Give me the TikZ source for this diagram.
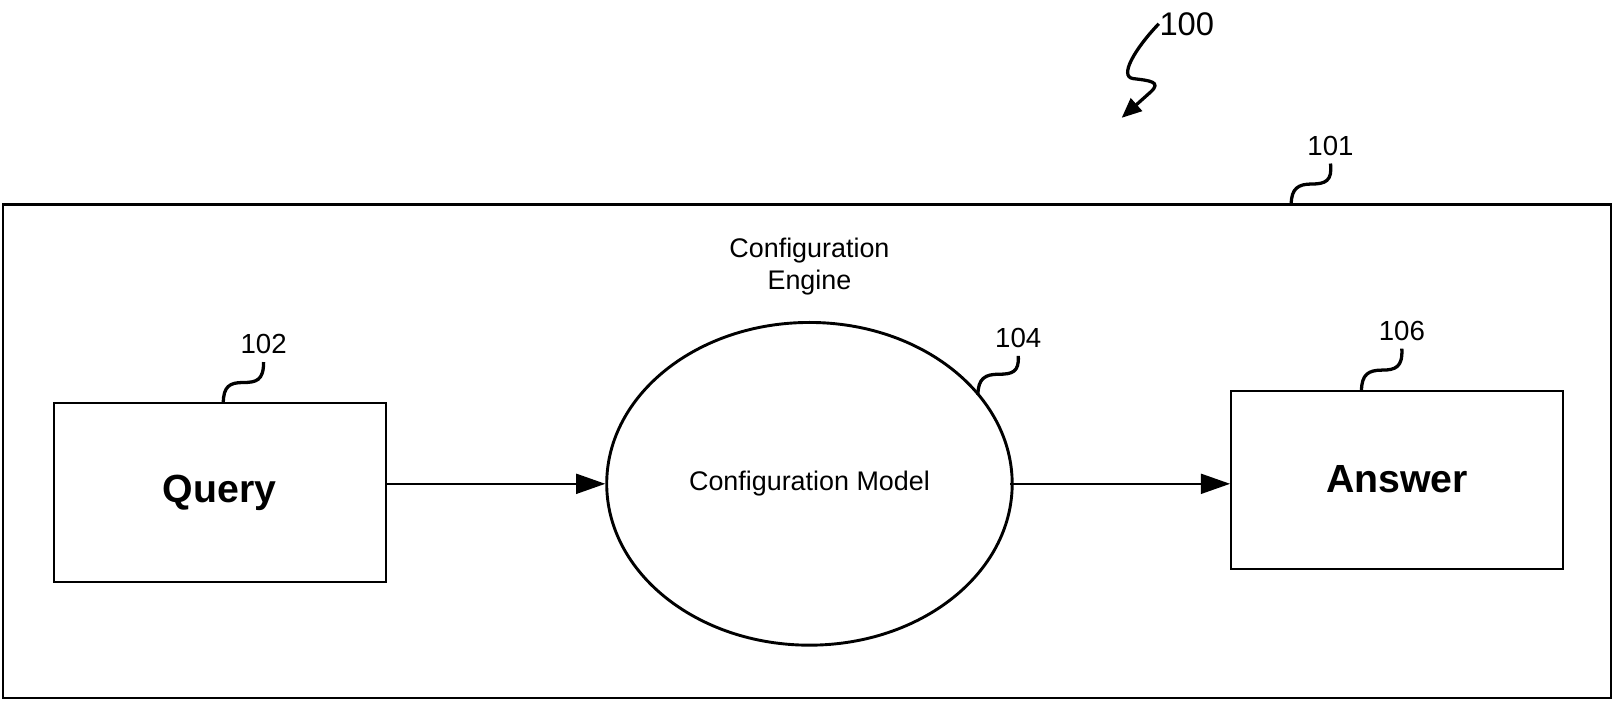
\documentclass[tikz,border=0pt]{standalone}
\usepackage{fontspec}
\setmainfont{Liberation Sans}
\usetikzlibrary{arrows.meta,shapes.geometric}

\tikzset{
	block/.style={draw, line width=0.6pt, minimum width=3.21cm, minimum height=1.73cm,
		font=\fontsize{10.8}{13}\selectfont\bfseries},
	refnum/.style={inner sep=2pt, font=\fontsize{7.6}{9}\selectfont},
	lead/.style={line width=0.9pt},
	flow/.style={line width=0.5pt, arrows={-Triangle[length=8pt,width=5.5pt]}}
}

\begin{document}
\begin{tikzpicture}[x=0.01cm, y=-0.01cm]
	\useasboundingbox (0,0) rectangle (1568,682);

	\node[draw, line width=0.6pt, minimum width=15.55cm, minimum height=4.77cm] (engine) at (780.5,436.5) {};
	\node[align=center, font=\fontsize{7.4}{8.8}\selectfont] (title) at (783,258) {Configuration\\Engine};

	\node[block] (Query) at (212.5,476.5) {Query};
	\node[draw, ellipse, line width=0.8pt, minimum width=3.92cm, minimum height=3.12cm, inner sep=0pt,
		font=\fontsize{7.4}{8.8}\selectfont] (Model) at (783,468) {Configuration Model};
	\node[block, minimum height=1.72cm] (Answer) at (1351.5,464) {Answer};

	\draw[flow] (Query.east |- Model.west) to (Model.west);
	\draw[flow] ([xshift=-1pt]Model.east) to (Answer.west |- Model.east);

	% reference numerals
	\node[refnum, inner sep=0pt, font=\fontsize{9}{11}\selectfont] (n100) at (1148,23) {100};
	\node[refnum] (n101) at (1287,141) {101};
	\node[refnum] (n102) at (255,333) {102};
	\node[refnum] (n104) at (985,327) {104};
	\node[refnum] (n106) at (1356,320) {106};

	\draw[flow, line width=0.9pt, arrows={-Triangle[length=5.5pt,width=4.6pt]}] (n100.west)
		.. controls (1098,47) and (1082,74) .. (1096,76)
		.. controls (1112,78) and (1124,79) .. (1113,89) -- (1085,114);
	\draw[lead] (n101.south) .. controls (1289,175) and (1282,178) .. (1269,178)
		.. controls (1256,178) and (1249,182) .. (1249,198);
	\draw[lead] (n102.south) .. controls (255,368) and (248,370) .. (235,370)
		.. controls (222,370) and (216,374) .. (216,390);
	\draw[lead] (n104.south) .. controls (986,360) and (979,362) .. (966,362)
		.. controls (953,362) and (946,366) .. (946,382);
	\draw[lead] (n106.south) .. controls (1357,355) and (1350,358) .. (1337,358)
		.. controls (1324,358) and (1317,362) .. (1317,378);
\end{tikzpicture}
\end{document}
